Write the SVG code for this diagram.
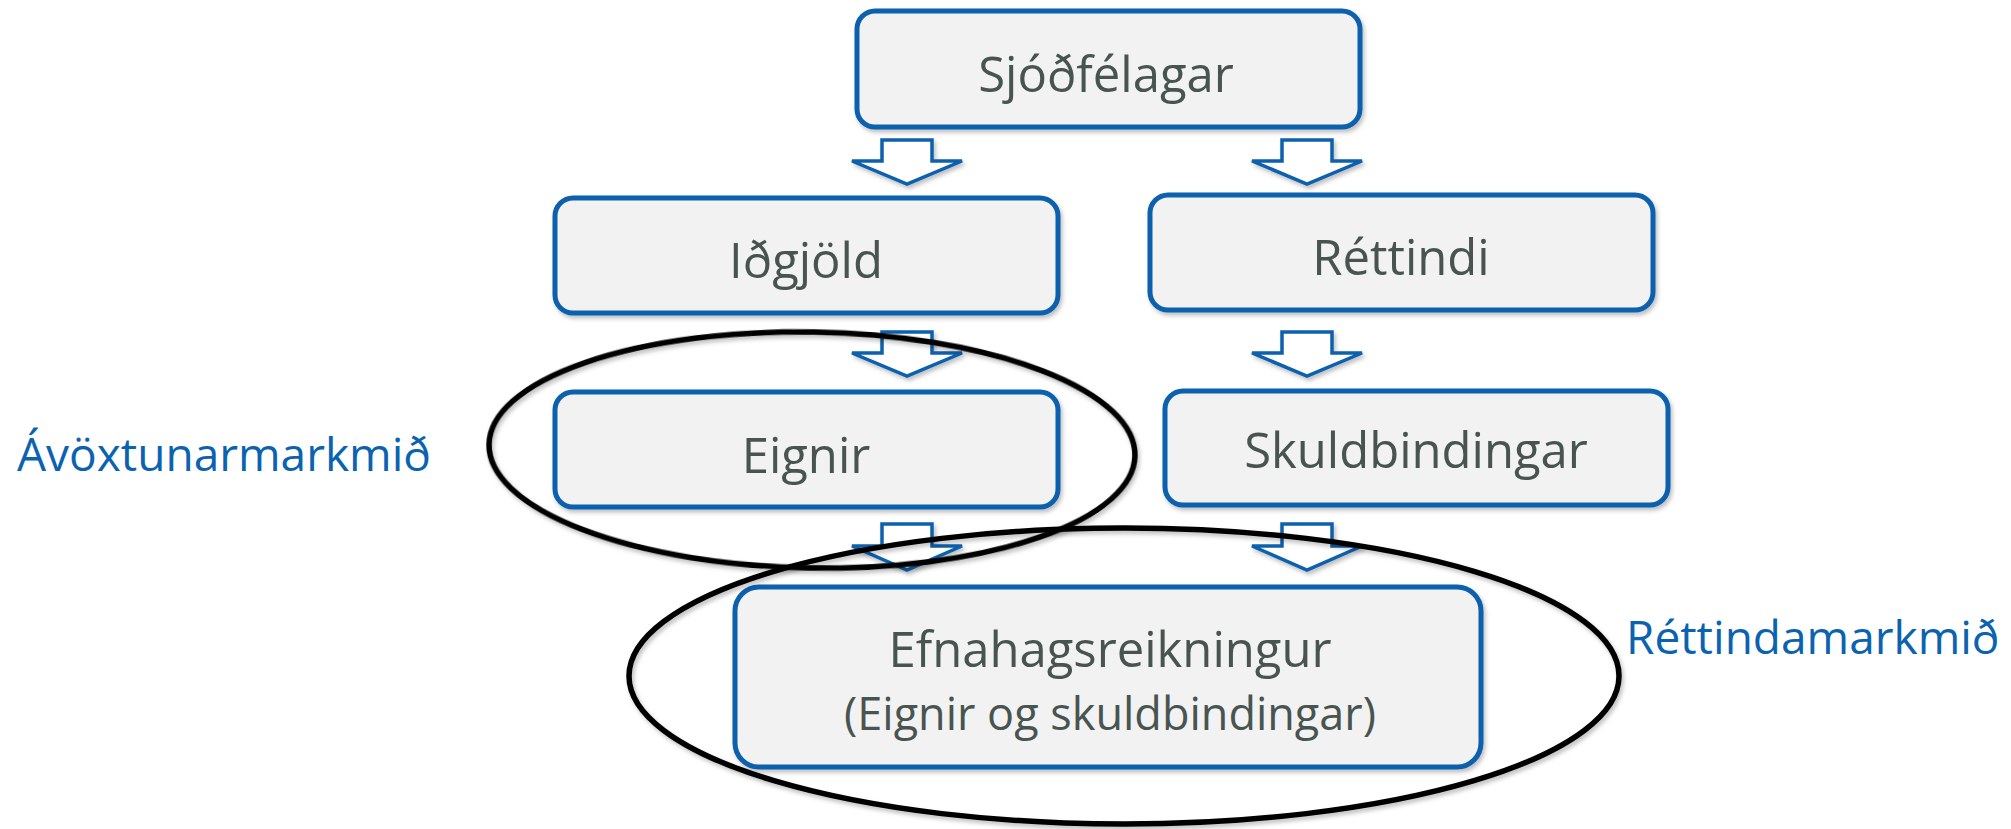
<svg xmlns="http://www.w3.org/2000/svg" width="2011" height="829" viewBox="0 0 2011 829">
  <defs>
    <filter id="shadow" x="-10%" y="-10%" width="120%" height="130%">
      <feDropShadow dx="2" dy="3" stdDeviation="2" flood-color="#000" flood-opacity="0.25"/>
    </filter>
    <style>
      .box { fill: #F2F2F2; stroke: #0A61AD; stroke-width: 5; filter: url(#shadow); }
      .lbl { font-family: "Open Sans", "Noto Sans", sans-serif; font-size: 49px; fill: #485450; text-anchor: middle; }
      .sub { font-size: 45px; }
      .goal { font-family: "Open Sans", "Noto Sans", sans-serif; font-size: 46px; fill: #0B63B0; }
      .arrow { fill: #FFFFFF; stroke: #0A61AD; stroke-width: 3.5; stroke-linejoin: miter; filter: url(#shadow); }
      .ring { fill: none; stroke: #000000; stroke-width: 5.5; filter: url(#shadow); }
    </style>
  </defs>

  <rect width="2011" height="829" fill="#FFFFFF"/>

  <!-- block arrows between the boxes -->
  <g id="connectors">
    <path class="arrow" d="M882,140 H932 V161 H962 L907,184 L852,161 H882 Z"/>
    <path class="arrow" d="M1282,140 H1332 V161 H1362 L1307,184 L1252,161 H1282 Z"/>
    <path class="arrow" d="M882,332 H932 V353 H962 L907,376 L852,353 H882 Z"/>
    <path class="arrow" d="M1282,332 H1332 V353 H1362 L1307,376 L1252,353 H1282 Z"/>
    <path class="arrow" d="M882,524 H932 V546 H962 L907,570 L852,546 H882 Z"/>
    <path class="arrow" d="M1282,524 H1332 V546 H1362 L1307,570 L1252,546 H1282 Z"/>
  </g>

  <g id="sjodfelagar">
    <rect class="box" x="857" y="11" width="503" height="116" rx="18"/>
    <text class="lbl" x="1106" y="92">Sjóðfélagar</text>
  </g>
  <g id="idgjold">
    <rect class="box" x="555" y="198" width="503" height="115" rx="18"/>
    <text class="lbl" x="806" y="278">Iðgjöld</text>
  </g>
  <g id="rettindi">
    <rect class="box" x="1150" y="195" width="503" height="115" rx="18"/>
    <text class="lbl" x="1401" y="275">Réttindi</text>
  </g>
  <g id="eignir">
    <rect class="box" x="555" y="392" width="503" height="115" rx="18"/>
    <text class="lbl" x="806" y="473">Eignir</text>
  </g>
  <g id="skuldbindingar">
    <rect class="box" x="1165" y="391" width="503" height="114" rx="18"/>
    <text class="lbl" x="1416" y="468">Skuldbindingar</text>
  </g>
  <g id="efnahagsreikningur">
    <rect class="box" x="735" y="587" width="746" height="180" rx="24"/>
    <text class="lbl" x="1110" y="667">Efnahagsreikningur</text>
    <text class="lbl sub" x="1110" y="730">(Eignir og skuldbindingar)</text>
  </g>

  <!-- target groupings -->
  <g id="avoxtun-ring">
    <ellipse class="ring" cx="812" cy="450" rx="323" ry="118" transform="rotate(1 812 450)"/>
  </g>
  <g id="rettinda-ring">
    <ellipse class="ring" cx="1124" cy="676" rx="495" ry="148"/>
  </g>

  <g id="avoxtunarmarkmid">
    <text class="goal" x="17" y="471">Ávöxtunarmarkmið</text>
  </g>
  <g id="rettindamarkmid">
    <text class="goal" x="1626" y="654">Réttindamarkmið</text>
  </g>
</svg>
